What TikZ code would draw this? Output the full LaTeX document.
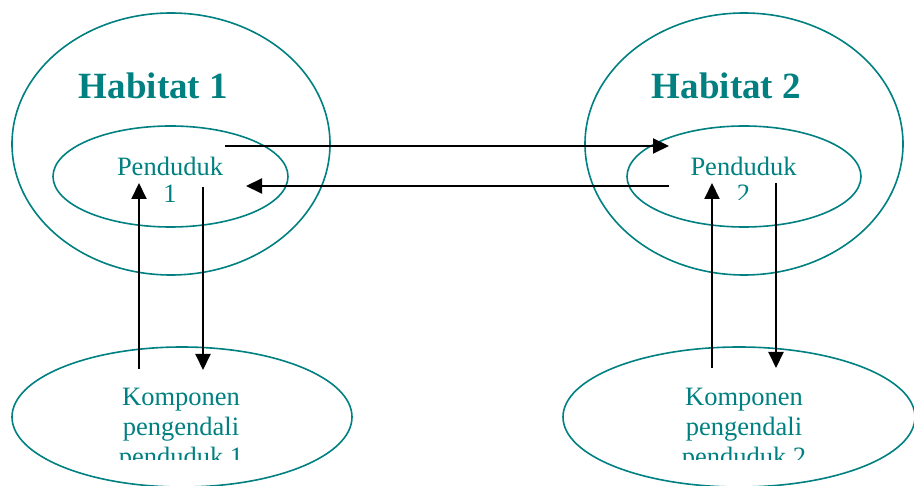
\documentclass[tikz,border=0pt]{standalone}
\usepackage{fontspec}
\setmainfont{Liberation Serif}
\usetikzlibrary{arrows.meta,shapes.geometric}
\definecolor{tealc}{RGB}{0,128,128}
\begin{document}
\begin{tikzpicture}[x=1pt,y=-1pt,
 ring/.style={draw=tealc,line width=1.6pt,ellipse,inner sep=0pt},
 title/.style={text=tealc,font=\bfseries\fontsize{37}{40}\selectfont,inner sep=0pt,anchor=base},
 lbl/.style={text=tealc,inner sep=0pt,align=center,anchor=north},
 flow/.style={line width=2pt,-{Triangle[length=16pt,width=15pt]}}]
\useasboundingbox (0,0) rectangle (914,486);
% ellipses
\node[ring,minimum width=318pt,minimum height=262pt] (h1) at (171,144) {};
\node[ring,minimum width=235pt,minimum height=101pt] (p1) at (170.5,176.5) {};
\node[ring,minimum width=318pt,minimum height=262pt] (h2) at (744,144) {};
\node[ring,minimum width=234pt,minimum height=101pt] (p2) at (744,176.5) {};
\node[ring,minimum width=340pt,minimum height=140pt] (k1) at (182,417) {};
\node[ring,minimum width=352pt,minimum height=140pt] (k2) at (739,417) {};
% titles
\node[title] (t1) at (153.5,99) {Habitat 1};
\node[title] (t2) at (726.5,99) {Habitat 2};
% inner labels (clipped as in the picture)
\begin{scope}
\clip (0,0) rectangle (457,203);
\node[lbl,font=\fontsize{26.5}{27}\selectfont] (l1) at (170,157) {Penduduk\\1};
\end{scope}
\begin{scope}
\clip (457,0) rectangle (914,199.5);
\node[lbl,font=\fontsize{26.5}{27}\selectfont] (l2) at (743.5,157) {Penduduk\\2};
\end{scope}
\begin{scope}
\clip (0,0) rectangle (914,460);
\node[lbl,font=\fontsize{26.5}{30}\selectfont] (c1) at (181,387.5) {Komponen\\pengendali\\penduduk 1};
\node[lbl,font=\fontsize{26.5}{30}\selectfont] (c2) at (744,387.5) {Komponen\\pengendali\\penduduk 2};
\end{scope}
% connector end points
\coordinate (a1) at (225,146);
\coordinate (a2) at (669,146);
\coordinate (b1) at (669,186);
\coordinate (b2) at (246,186);
\coordinate (u1s) at (139,369);
\coordinate (u1e) at (139,183);
\coordinate (d1s) at (203,187);
\coordinate (d1e) at (203,370);
\coordinate (u2s) at (712,368);
\coordinate (u2e) at (712,183);
\coordinate (d2s) at (776,183);
\coordinate (d2e) at (776,368);
\draw[flow] (a1) -- (a2);
\draw[flow] (b1) -- (b2);
\draw[flow] (u1s) -- (u1e);
\draw[flow] (d1s) -- (d1e);
\draw[flow] (u2s) -- (u2e);
\draw[flow] (d2s) -- (d2e);
\end{tikzpicture}
\end{document}
